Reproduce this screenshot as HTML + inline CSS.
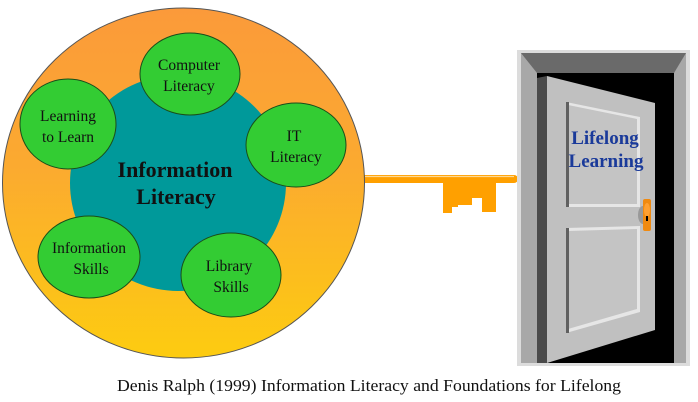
<!DOCTYPE html>
<html><head><meta charset="utf-8"><style>
html,body{margin:0;padding:0;background:#fff;}
svg{display:block;}
text{font-family:"Liberation Serif",serif;}
</style></head><body>
<svg width="698" height="402" viewBox="0 0 698 402" xmlns="http://www.w3.org/2000/svg">
<defs>
<linearGradient id="og" x1="0" y1="0" x2="0" y2="1">
<stop offset="0" stop-color="#fb9a3a"/><stop offset="0.45" stop-color="#fbaa30"/><stop offset="1" stop-color="#fdcc10"/>
</linearGradient>
</defs>
<!-- key -->
<rect x="360" y="175" width="158" height="8" rx="4" fill="#ffa000"/>
<line x1="365" y1="176.5" x2="514" y2="176.5" stroke="#ffd890" stroke-width="1.2"/>
<polygon points="443,183 496,183 496,212 482,212 482,198 472,198 472,205 458,205 458,207 452,207 452,213 443,213" fill="#ffa000"/>
<!-- big circle -->
<ellipse cx="183.5" cy="183" rx="181" ry="175" fill="url(#og)" stroke="#555" stroke-width="1"/>
<circle cx="178" cy="183" r="108" fill="#00999a"/>
<g fill="#33cc33" stroke="#1a4d1a" stroke-width="1">
<ellipse cx="190" cy="74" rx="50" ry="41"/>
<ellipse cx="68" cy="124" rx="48" ry="45"/>
<ellipse cx="296" cy="145" rx="50" ry="42"/>
<ellipse cx="89" cy="257" rx="51" ry="41"/>
<ellipse cx="231" cy="275" rx="50" ry="42"/>
</g>
<g font-size="15.5" fill="#111" text-anchor="middle">
<text x="189" y="70">Computer</text><text x="189" y="91">Literacy</text>
<text x="68" y="121">Learning</text><text x="68" y="142">to Learn</text>
<text x="294" y="141">IT</text><text x="296" y="162">Literacy</text>
<text x="89" y="253">Information</text><text x="91" y="274">Skills</text>
<text x="229" y="271">Library</text><text x="231" y="292">Skills</text>
</g>
<g font-size="22" font-weight="bold" fill="#111" text-anchor="middle">
<text x="175" y="177">Information</text><text x="176" y="204">Literacy</text>
</g>
<!-- door -->
<rect x="517" y="50" width="173" height="316" fill="#dcdcdc"/>
<rect x="521" y="53" width="165" height="310" fill="#a8a8a8"/>
<polygon points="521,53 686,53 674,73 537,73" fill="#6a6a6a"/>
<rect x="537" y="73" width="137" height="290" fill="#000"/>
<polygon points="537,78 547,76 547,363 537,363" fill="#4a4a4a"/>
<polygon points="547,76 655,103 655,330 547,363" fill="#c0c0c0"/>
<polygon points="566,102 640,117 640,207 566,207" fill="#e6e6e6"/>
<polygon points="568,105 637,119 637,204 568,204" fill="#c4c4c4"/>
<rect x="566" y="102" width="3" height="105" fill="#606060"/>
<polygon points="566,228 640,226 640,312 566,333" fill="#e6e6e6"/>
<polygon points="568,231 637,229 637,309 568,329" fill="#c4c4c4"/>
<rect x="566" y="228" width="3" height="105" fill="#606060"/>
<ellipse cx="643" cy="215" rx="5" ry="9" fill="#999"/>
<rect x="643" y="199" width="8" height="32" rx="2" fill="#f08a10"/>
<ellipse cx="647" cy="210" rx="3" ry="7" fill="#ffa030"/>
<rect x="646" y="216" width="2" height="5" fill="#000"/>
<g font-size="19" font-weight="bold" fill="#1a3a9a" text-anchor="middle">
<text x="605" y="144">Lifelong</text><text x="606" y="167">Learning</text>
</g>
<text x="117" y="391" font-size="16.5" fill="#111" textLength="504" lengthAdjust="spacingAndGlyphs">Denis Ralph (1999) Information Literacy and Foundations for Lifelong</text>
</svg>
</body></html>
